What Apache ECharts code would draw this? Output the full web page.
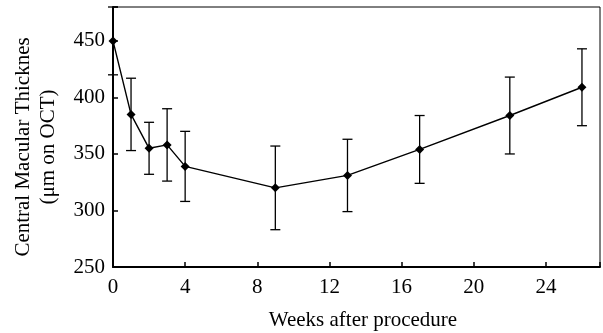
<!DOCTYPE html>
<html>
<head>
<meta charset="utf-8">
<script src="https://cdn.jsdelivr.net/npm/echarts@6/dist/echarts.min.js"></script>
<style>
  html, body { margin: 0; padding: 0; background: #fff; }
  #chart { width: 603px; height: 333px; }
</style>
</head>
<body>
<div id="chart"></div>
<script>
const weeks = [0, 1, 2, 3, 4, 9, 13, 17, 22, 26];
const meanCMT = [450, 385, 355, 358, 339, 320, 331, 354, 384, 409];
const errCMT = [30, 32, 23, 32, 31, 37, 32, 30, 34, 34];
const xTicks = [0, 4, 8, 12, 16, 20, 24];
const yTicks = [250, 300, 350, 400, 450];

const font = "Liberation Serif";
const chart = echarts.init(document.getElementById("chart"));

const linePts = weeks.map((w, i) => [w, meanCMT[i]]);
const errPts = weeks.map((w, i) => [w, meanCMT[i] - errCMT[i], meanCMT[i] + errCMT[i]]);

chart.setOption({
  animation: false,
  backgroundColor: "#fff",
  textStyle: { fontFamily: font },
  grid: {
    left: 113, right: 3, top: 7, bottom: 66,
    outerBoundsMode: "none",
    containLabel: false,
    show: true, borderColor: "#000", borderWidth: 1
  },
  xAxis: {
    type: "value",
    min: 0, max: 27, interval: 4,
    splitLine: { show: false },
    axisLine: { lineStyle: { color: "#000", width: 2 } },
    axisTick: { inside: true, length: 5, lineStyle: { color: "#000", width: 1.5 } },
    axisLabel: {
      color: "#000", fontFamily: font, fontSize: 21, margin: 10,
      formatter: v => (xTicks.includes(v) ? String(v) : "")
    }
  },
  yAxis: {
    type: "value",
    min: 250, max: 480, interval: 50,
    splitLine: { show: false },
    axisLine: { lineStyle: { color: "#000", width: 2 } },
    axisTick: { inside: true, length: 5, lineStyle: { color: "#000", width: 1.5 } },
    axisLabel: {
      color: "#000", fontFamily: font, fontSize: 21, margin: 8,
      formatter: v => (yTicks.includes(v) ? String(v) : "")
    }
  },
  graphic: [
    {
      type: "text",
      x: 363, y: 320,
      style: {
        text: "Weeks after procedure", fill: "#000", font: "21px " + font,
        textAlign: "center", textVerticalAlign: "middle"
      }
    },
    {
      type: "text",
      x: 36, y: 147,
      rotation: Math.PI / 2,
      style: {
        text: "Central Macular Thicknes\n(μm on OCT)", fill: "#000", font: "21px " + font,
        lineHeight: 25, textAlign: "center", textVerticalAlign: "middle"
      }
    }
  ],
  series: [
    {
      type: "custom",
      data: errPts,
      clip: false,
      z: 3,
      renderItem: (params, api) => {
        const lo = api.coord([api.value(0), api.value(1)]);
        const hi = api.coord([api.value(0), api.value(2)]);
        const half = 5;
        const style = { stroke: "#000", lineWidth: 1.3 };
        return {
          type: "group",
          children: [
            { type: "line", shape: { x1: lo[0], y1: lo[1], x2: hi[0], y2: hi[1] }, style },
            { type: "line", shape: { x1: lo[0] - half, y1: lo[1], x2: lo[0] + half, y2: lo[1] }, style },
            { type: "line", shape: { x1: hi[0] - half, y1: hi[1], x2: hi[0] + half, y2: hi[1] }, style }
          ]
        };
      }
    },
    {
      type: "line",
      data: linePts,
      symbol: "diamond",
      symbolSize: 9,
      z: 4,
      lineStyle: { color: "#000", width: 1.4 },
      itemStyle: { color: "#000" }
    }
  ]
});
</script>
</body>
</html>
